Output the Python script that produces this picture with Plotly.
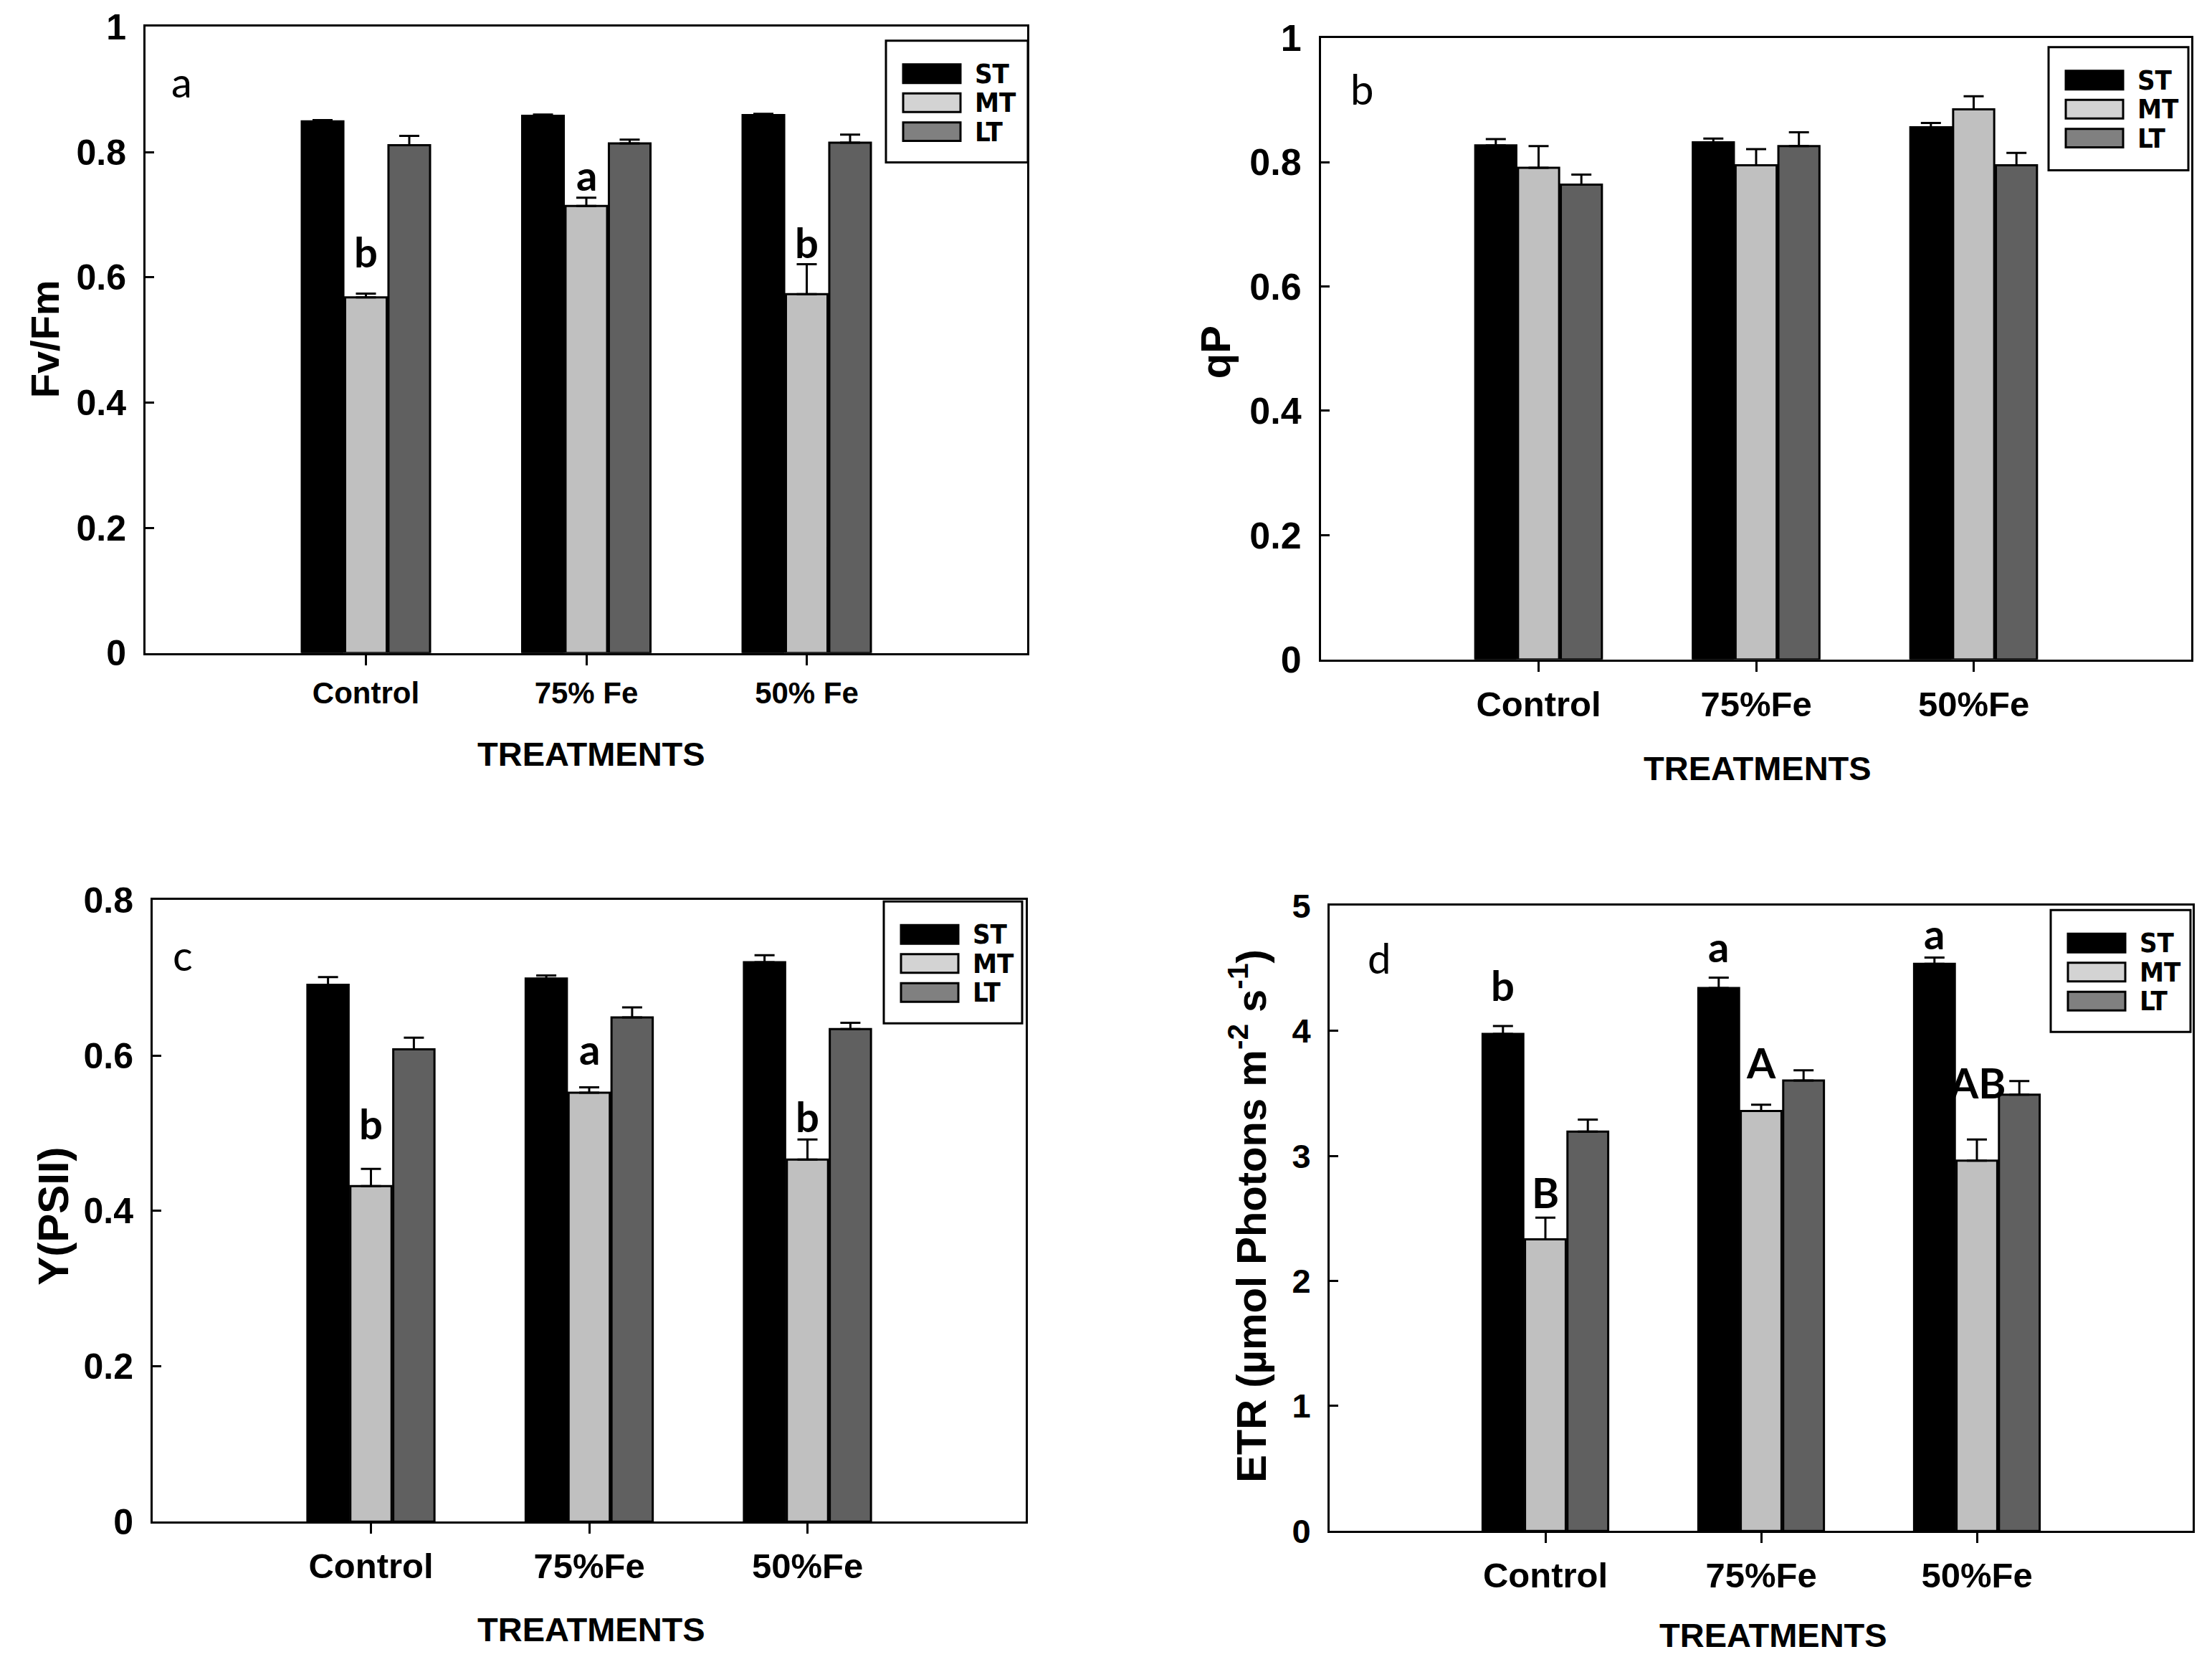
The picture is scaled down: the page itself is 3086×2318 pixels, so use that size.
import plotly.graph_objects as go

W, H = 3086, 2318

series = ['ST', 'MT', 'LT']
cats_a = ['Control', '75% Fe', '50% Fe']
cats = ['Control', '75%Fe', '50%Fe']
xpos = [1, 2, 3]

# panel a: Fv/Fm
fvfm_st = [0.849, 0.858, 0.859]
fvfm_st_err = [0.002, 0.002, 0.002]
fvfm_mt = [0.568, 0.714, 0.573]
fvfm_mt_err = [0.006, 0.013, 0.048]
fvfm_lt = [0.811, 0.814, 0.815]
fvfm_lt_err = [0.015, 0.006, 0.013]

# panel b: qP
qp_st = [0.827, 0.832, 0.856]
qp_st_err = [0.010, 0.006, 0.007]
qp_mt = [0.791, 0.795, 0.885]
qp_mt_err = [0.035, 0.026, 0.021]
qp_lt = [0.764, 0.826, 0.795]
qp_lt_err = [0.016, 0.022, 0.020]

# panel c: Y(PSII)
ypsii_st = [0.691, 0.699, 0.720]
ypsii_st_err = [0.010, 0.004, 0.009]
ypsii_mt = [0.432, 0.552, 0.466]
ypsii_mt_err = [0.022, 0.007, 0.026]
ypsii_lt = [0.608, 0.649, 0.634]
ypsii_lt_err = [0.015, 0.013, 0.008]

# panel d: ETR
etr_st = [3.975, 4.342, 4.536]
etr_st_err = [0.063, 0.084, 0.050]
etr_mt = [2.333, 3.359, 2.962]
etr_mt_err = [0.173, 0.050, 0.169]
etr_lt = [3.194, 3.603, 3.489]
etr_lt_err = [0.097, 0.081, 0.110]

# significance letters (series index, category index, text, y)
sig_a = [(1, 0, 'b', 0.642), (1, 1, 'a', 0.764), (1, 2, 'b', 0.657)]
sig_c = [(1, 0, 'b', 0.513), (1, 1, 'a', 0.609), (1, 2, 'b', 0.522)]
sig_d = [(0, 0, 'b', 4.37), (0, 1, 'a', 4.68), (0, 2, 'a', 4.78),
         (1, 0, 'B', 2.71), (1, 1, 'A', 3.75), (1, 2, 'AB', 3.59)]

bar_colors = ['#000000', '#c0c0c0', '#606060']
legend_colors = ['#000000', '#d3d3d3', '#808080']

BOLD = 'Liberation Sans, Arial, sans-serif'
NARROW = 'Liberation Sans Narrow, Arial Narrow, DejaVu Sans Condensed, sans-serif'
LETTER = 'Lato, Open Sans, sans-serif'

BARGAP = 0.41


# positions below are pixels measured on the original image;
# the page is shot with a little padding, so nudge them to line up
def px(x):
    return (x - 5) / W


def py(y):
    y = max(1.5, min(H - 1.5, 1.024 * y - 34))
    return 1 - y / H


panels = [
    dict(tag='a', vals=[fvfm_st, fvfm_mt, fvfm_lt], errs=[fvfm_st_err, fvfm_mt_err, fvfm_lt_err],
         cats=cats_a, box=(200, 34, 1430, 909), ymax=1, dtick=0.2, ytitle='Fv/Fm',
         ytitle_xy=(59, 471), ytitle_size=56, xtitle_xy=(822, 1050), tick_size=50, cat_size=42,
         label_xy=(250, 111), legend=(1233, 54, 1431, 224), sig=sig_a),
    dict(tag='b', vals=[qp_st, qp_mt, qp_lt], errs=[qp_st_err, qp_mt_err, qp_lt_err],
         cats=cats, box=(1840, 50, 3054, 918), ymax=1, dtick=0.2, ytitle='qP',
         ytitle_xy=(1692, 489), ytitle_size=58, xtitle_xy=(2449, 1070), tick_size=52, cat_size=49,
         label_xy=(1897, 121), legend=(2855, 63, 3050, 235), sig=[]),
    dict(tag='c', vals=[ypsii_st, ypsii_mt, ypsii_lt], errs=[ypsii_st_err, ypsii_mt_err, ypsii_lt_err],
         cats=cats, box=(210, 1254, 1428, 2122), ymax=0.8, dtick=0.2, ytitle='Y(PSII)',
         ytitle_xy=(72, 1696), ytitle_size=60, xtitle_xy=(822, 2272), tick_size=50, cat_size=49,
         label_xy=(252, 1330), legend=(1230, 1256, 1423, 1426), sig=sig_c),
    dict(tag='d', vals=[etr_st, etr_mt, etr_lt], errs=[etr_st_err, etr_mt_err, etr_lt_err],
         cats=cats, box=(1852, 1262, 3056, 2135), ymax=5, dtick=1,
         ytitle='ETR (µmol Photons m<sup>-2</sup> s<sup>-1</sup>)',
         ytitle_xy=(1738, 1695), ytitle_size=58, xtitle_xy=(2471, 2280), tick_size=47, cat_size=49,
         label_xy=(1921, 1334), legend=(2858, 1268, 3053, 1438), sig=sig_d),
]

fig = go.Figure()
annotations = []
shapes = []
slot = (1 - BARGAP) / 3

for i, p in enumerate(panels):
    n = '' if i == 0 else str(i + 1)
    xa, ya = 'x' + n, 'y' + n
    for j, s in enumerate(series):
        fig.add_trace(go.Bar(
            x=xpos, y=p['vals'][j], name=s,
            marker=dict(color=bar_colors[j], line=dict(color='black', width=3)),
            error_y=dict(type='data', symmetric=False, array=p['errs'][j], arrayminus=[0, 0, 0],
                         color='black', thickness=3, width=14),
            xaxis=xa, yaxis=ya, showlegend=False,
        ))

    x0, y0, x1, y1 = p['box']
    fig.layout['xaxis' + n] = dict(
        domain=[px(x0), px(x1)], range=[0, 4], anchor=ya,
        tickmode='array', tickvals=xpos, ticktext=p['cats'],
        ticks='outside', ticklen=14, tickwidth=3, tickcolor='black',
        showline=True, mirror=True, linewidth=3, linecolor='black',
        showgrid=False, zeroline=False, ticklabelstandoff=3,
        tickfont=dict(family=BOLD, size=p['cat_size'], color='black', weight='bold'),
    )
    fig.layout['yaxis' + n] = dict(
        domain=[py(y1), py(y0)], range=[0, p['ymax']], anchor=xa, dtick=p['dtick'],
        ticks='inside', ticklen=12, tickwidth=3, tickcolor='black',
        showline=True, mirror=True, linewidth=3, linecolor='black',
        showgrid=False, zeroline=False, ticklabelstandoff=14,
        tickfont=dict(family=BOLD, size=p['tick_size'], color='black', weight='bold'),
    )

    # axis titles
    tx, ty = p['ytitle_xy']
    annotations.append(dict(x=px(tx), y=py(ty), xref='paper', yref='paper', text=p['ytitle'],
                            textangle=-90, showarrow=False, xanchor='center', yanchor='middle',
                            font=dict(family=BOLD, size=p['ytitle_size'], color='black', weight='bold')))
    tx, ty = p['xtitle_xy']
    annotations.append(dict(x=px(tx), y=py(ty), xref='paper', yref='paper', text='TREATMENTS',
                            showarrow=False, xanchor='center', yanchor='middle',
                            font=dict(family=BOLD, size=47, color='black', weight='bold')))
    # panel letter
    lx, ly = p['label_xy']
    annotations.append(dict(x=px(lx), y=py(ly), xref='paper', yref='paper', text=p['tag'],
                            showarrow=False, xanchor='center', yanchor='middle',
                            font=dict(family=LETTER, size=58, color='black')))
    # significance letters
    for sj, ci, txt, yv in p['sig']:
        annotations.append(dict(x=xpos[ci] + (sj - 1) * slot, y=yv, xref=xa, yref=ya, text=txt,
                                showarrow=False, xanchor='center', yanchor='middle',
                                font=dict(family=LETTER, size=58, color='black', weight='bold')))

    # legend box drawn by hand (wide swatches like the original)
    bx0, by0, bx1, by1 = p['legend']
    shapes.append(dict(type='rect', xref='paper', yref='paper', x0=px(bx0), x1=px(bx1),
                       y0=py(by1), y1=py(by0), line=dict(color='black', width=3), fillcolor='white'))
    for j, s in enumerate(series):
        cy = by0 + 46 + 40.5 * j
        shapes.append(dict(type='rect', xref='paper', yref='paper',
                           x0=px(bx0 + 24), x1=px(bx0 + 104), y0=py(cy + 13), y1=py(cy - 13),
                           line=dict(color='black', width=3), fillcolor=legend_colors[j]))
        annotations.append(dict(x=px(bx0 + 122), y=py(cy), xref='paper', yref='paper', text=s,
                                showarrow=False, xanchor='left', yanchor='middle',
                                font=dict(family=NARROW, size=38, color='black', weight='bold')))

fig.update_layout(
    width=W, height=H, margin=dict(l=0, r=0, t=0, b=0),
    paper_bgcolor='white', plot_bgcolor='white',
    barmode='group', bargap=BARGAP, bargroupgap=0.04,
    annotations=annotations, shapes=shapes, showlegend=False,
)

fig.write_html("out.html")
